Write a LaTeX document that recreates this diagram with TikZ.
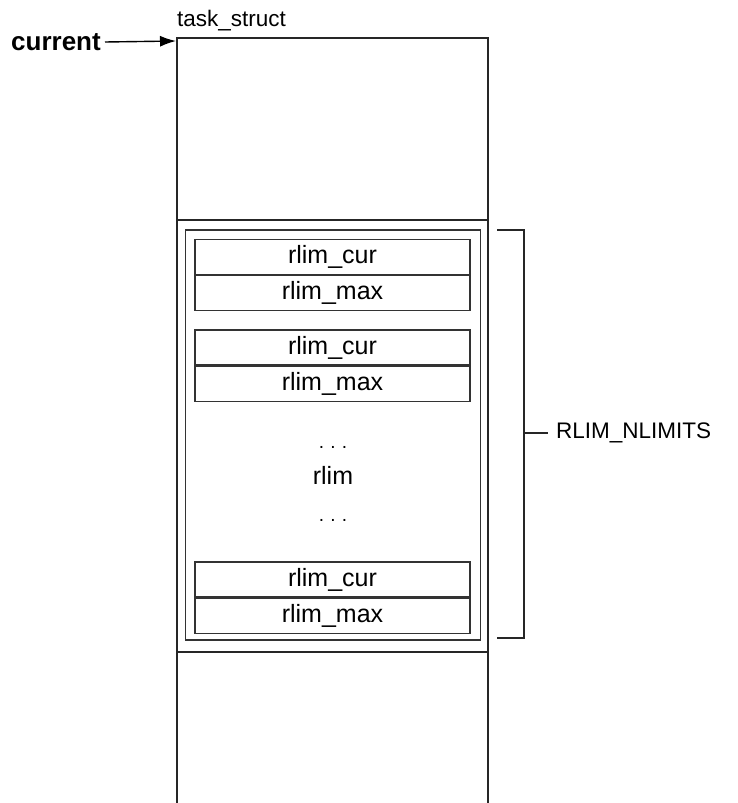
\documentclass[tikz,border=0pt]{standalone}
\usepackage{fontspec}
\setmainfont{Liberation Sans}
\usetikzlibrary{positioning, arrows.meta, calc}

\tikzset{
  field/.style={draw=black!80, line width=1.3pt, minimum width=275pt,
    minimum height=35pt, inner sep=0pt, font=\fontsize{25}{28}\selectfont},
  plain/.style={inner sep=0pt, font=\fontsize{22.5}{26}\selectfont},
}

\begin{document}
\begin{tikzpicture}[x=1pt, y=-1pt]
    \useasboundingbox (0,0) rectangle (738,803);

    % task_struct outline (open at the bottom)
    \draw[line width=1.5pt, black!85] (177,803) -- (177,38) -- (488,38) -- (488,803);
    \draw[line width=1.5pt, black!85] (177,220) -- (488,220);
    \draw[line width=1.5pt, black!85] (177,652) -- (488,652);
    \coordinate (tasktop) at (176,41);
    \node[plain, anchor=base west] (taskname) at (177,27) {task\_struct};

    % current pointer
    \node[plain, font=\bfseries\fontsize{26}{30}\selectfont, anchor=east] (current) at (101,42) {current};
    \draw[line width=1.4pt, -{Latex[length=16pt, width=11pt]}] ($(current.east)+(4,0)$) -- (tasktop);

    % rlim array
    \node[draw=black!80, line width=1.6pt, minimum width=295pt, minimum height=410pt] (rlimbox) at (333,435) {};

    \node[field] (cur1) at (332.5,257) {rlim\_cur};
    \node[field, below=0pt of cur1] (max1) {rlim\_max};
    \node[field] (cur2) at (332.5,347.5) {rlim\_cur};
    \node[field, below=0pt of cur2] (max2) {rlim\_max};
    \node[field] (cur3) at (332.5,579.5) {rlim\_cur};
    \node[field, below=0pt of cur3] (max3) {rlim\_max};

    \node[plain, font=\fontsize{19}{20}\selectfont] (dotsa) at (333,447) {.\,\,.\,\,.};
    \node[plain, font=\fontsize{25}{28}\selectfont] (rlim) at (333,475) {rlim};
    \node[plain, font=\fontsize{19}{20}\selectfont] (dotsb) at (333,520) {.\,\,.\,\,.};

    % RLIM_NLIMITS brace
    \coordinate (bt) at (497,230);
    \coordinate (bb) at (497,638);
    \coordinate (tick) at (548,433);
    \draw[line width=1.5pt, black!85] (bt) -- (524,230) -- (524,638) -- (bb);
    \draw[line width=1.5pt, black!85] (524,433) -- (tick);
    \node[plain, anchor=west] (nlimits) at ($(tick)+(8,0)$) {RLIM\_NLIMITS};
\end{tikzpicture}
\end{document}
